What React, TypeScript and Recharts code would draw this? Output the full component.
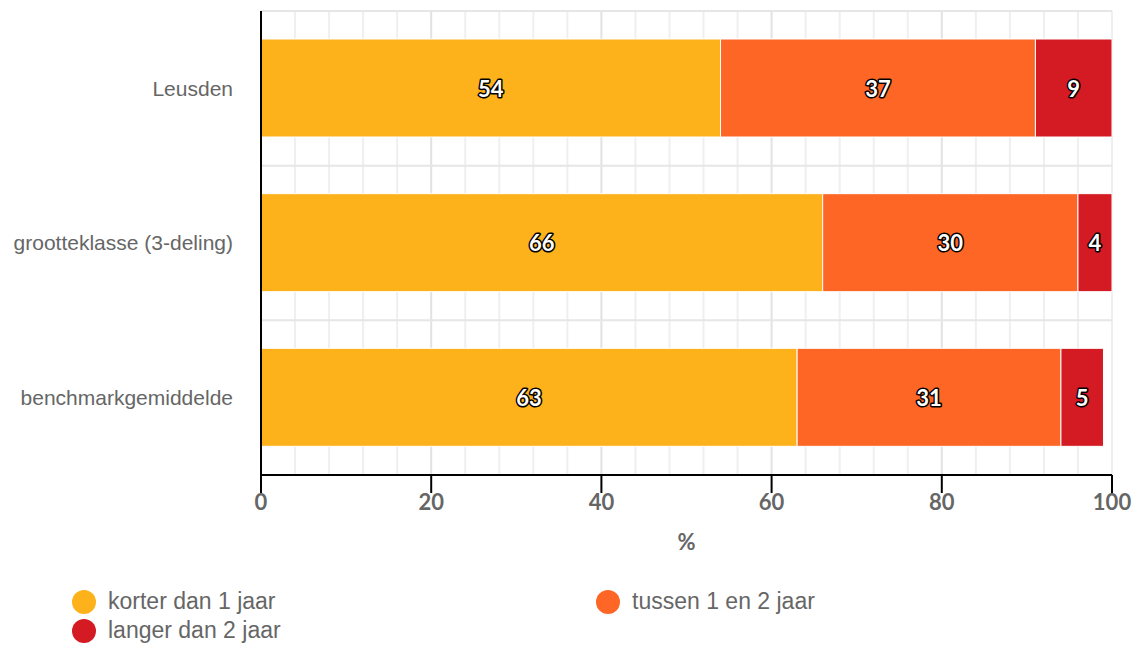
import { BarChart, Bar, XAxis, YAxis, CartesianGrid, LabelList } from 'recharts'

const CATEGORIEEN = ['Leusden', 'grootteklasse (3-deling)', 'benchmarkgemiddelde']
const KORTER = [54, 66, 63]
const TUSSEN = [37, 30, 31]
const LANGER = [9, 4, 5]
const X_DOMAIN = [0, 100]
const X_TICKS = [0, 20, 40, 60, 80, 100]
const GRID_MINOR = [4, 8, 12, 16, 24, 28, 32, 36, 44, 48, 52, 56, 64, 68, 72, 76, 84, 88, 92, 96, 100]
const GRID_MAJOR = [20, 40, 60, 80]

const SERIES = [
  { key: 'korter', naam: 'korter dan 1 jaar', kleur: '#fdb21b' },
  { key: 'tussen', naam: 'tussen 1 en 2 jaar', kleur: '#fe6625' },
  { key: 'langer', naam: 'langer dan 2 jaar', kleur: '#d41a22' },
]

const data = CATEGORIEEN.map((naam, i) => ({
  naam,
  korter: KORTER[i],
  tussen: TUSSEN[i],
  langer: LANGER[i],
}))

const GRAY = '#666'
const NUM_FONT = 'Lato, "Open Sans", sans-serif'
const TXT_FONT = '"Liberation Sans", Arial, sans-serif'

function BarLabel(props: any) {
  const { x, y, width, height, value } = props
  return (
    <text
      x={Number(x) + Number(width) / 2}
      y={Number(y) + Number(height) / 2}
      textAnchor="middle"
      dominantBaseline="central"
      fontFamily={NUM_FONT}
      fontWeight={700}
      fontSize={22}
      fill="#fff"
      stroke="#000"
      strokeWidth={3}
      strokeLinejoin="round"
      paintOrder="stroke"
    >
      {value}
    </text>
  )
}

// vertical grid at value positions, horizontal grid at category band edges
const gridX = (ticks: number[]) => (p: any) => {
  const o = p.offset || {}
  return ticks.map((v) => o.left + ((v - X_DOMAIN[0]) / (X_DOMAIN[1] - X_DOMAIN[0])) * o.width)
}
const gridY = (p: any) => {
  const o = p.offset || {}
  return [0, 1, 2].map((i) => o.top + (i * o.height) / CATEGORIEEN.length)
}

export default function App() {
  return (
    <div style={{ position: 'absolute', left: 0, top: 0, width: 1136, height: 646, background: '#fff' }}>
      <BarChart
        width={1136}
        height={560}
        data={data}
        layout="vertical"
        margin={{ top: 11, right: 24, left: 0, bottom: 5 }}
        barSize={98}
      >
        <CartesianGrid stroke="#efefef" strokeWidth={2} horizontal={false} verticalCoordinatesGenerator={gridX(GRID_MINOR)} />
        <CartesianGrid stroke="#e2e2e2" strokeWidth={2} horizontal={false} verticalCoordinatesGenerator={gridX(GRID_MAJOR)} />
        <CartesianGrid stroke="#e6e6e6" strokeWidth={2} vertical={false} horizontalCoordinatesGenerator={gridY} />
        <XAxis
          type="number"
          domain={X_DOMAIN}
          ticks={X_TICKS}
          height={80}
          axisLine={{ stroke: '#000', strokeWidth: 2 }}
          tickLine={{ stroke: '#000', strokeWidth: 2 }}
          tickSize={18}
          tickMargin={1}
          tick={{ fill: GRAY, fontSize: 22, fontWeight: 700, fontFamily: NUM_FONT }}
          label={{ value: '%', position: 'insideBottom', offset: 5, fill: GRAY, fontSize: 22, fontWeight: 700, fontFamily: NUM_FONT }}
        />
        <YAxis
          type="category"
          dataKey="naam"
          width={261}
          axisLine={{ stroke: '#000', strokeWidth: 2 }}
          tickLine={false}
          tickSize={0}
          tickMargin={28}
          tick={{ fill: GRAY, fontSize: 21, fontFamily: TXT_FONT }}
        />
        {SERIES.map((s) => (
          <Bar key={s.key} dataKey={s.key} stackId="a" fill={s.kleur} stroke="#fff" strokeWidth={1} isAnimationActive={false}>
            <LabelList dataKey={s.key} content={BarLabel} />
          </Bar>
        ))}
      </BarChart>
      <div style={{ position: 'absolute', left: 72, top: 587, width: 1100, fontFamily: TXT_FONT, fontSize: 23, color: GRAY }}>
        {[[SERIES[0], SERIES[1]], [SERIES[2]]].map((rij, r) => (
          <div key={r} style={{ display: 'flex', height: 29, alignItems: 'center' }}>
            {rij.map((s) => (
              <div key={s.key} style={{ display: 'flex', alignItems: 'center', width: 524, flexShrink: 0 }}>
                <span style={{ width: 24, height: 24, borderRadius: 12, background: s.kleur, marginRight: 12, flexShrink: 0 }} />
                <span>{s.naam}</span>
              </div>
            ))}
          </div>
        ))}
      </div>
    </div>
  )
}
